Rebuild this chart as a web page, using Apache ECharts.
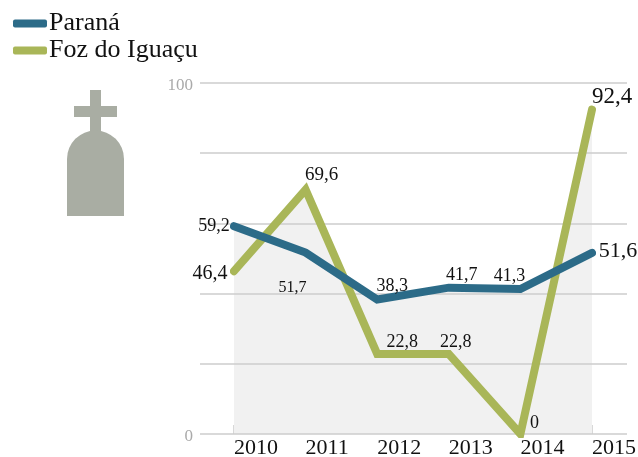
<!DOCTYPE html>
<html><head><meta charset="utf-8">
<style>html,body{margin:0;padding:0;background:#fff}#c{width:638px;height:457px}</style>
<script src="https://cdn.jsdelivr.net/npm/echarts@6/dist/echarts.min.js"></script>
</head><body><div id="c"></div>
<script>
const years = ['2010','2011','2012','2013','2014','2015'];
const parana = [59.2,51.7,38.3,41.7,41.3,51.6];
const foz = [46.4,69.6,22.8,22.8,0,92.4];
const yTicks = [0,100];
const labelOffsets = {
  parana:[[-20,10],[-13,44],[15,-4],[13,-3],[-11,-3],[26,10]],
  foz:[[-24,13],[16,-5],[25,-2],[7,-2],[14,-1],[20,-1]]
};
const labelSizes = {parana:[18,16,18,18,18,22], foz:[20,19,18,18,18,23]};
const fmt = v => String(v).replace('.',',');
const FONT = 'Liberation Serif';
const lineSeries = (name,data,color,key,z) => ({
  name,type:'line',data:data.map((v,i)=>({value:v,label:{
    show:true,position:'top',distance:0,offset:labelOffsets[key][i],
    fontSize:labelSizes[key][i],fontFamily:FONT,color:'#111',formatter:()=>fmt(v)}})),
  xAxisIndex:1,yAxisIndex:1,showSymbol:true,showAllSymbol:true,symbol:'circle',symbolSize:1,z,
  lineStyle:{color,width:8,cap:'round',join:'miter'},itemStyle:{color}
});
const areaSeries = data => ({
  type:'line',data,xAxisIndex:1,yAxisIndex:1,symbol:'none',z:1,silent:true,
  lineStyle:{opacity:0},areaStyle:{color:'#f1f1f1',opacity:1}
});
const chart = echarts.init(document.getElementById('c'),null,{renderer:'canvas'});
const gridTop=83,gridBottom=457-434;
chart.setOption({
  animation:false,
  legend:{left:8,top:5,orient:'vertical',itemWidth:34,itemHeight:8,itemGap:0,
    data:['Paraná','Foz do Iguaçu'],icon:'roundRect',
    textStyle:{fontFamily:FONT,fontSize:26,color:'#111',lineHeight:27,padding:[0,0,0,-3]}},
  grid:[{left:200,right:11,top:gridTop,bottom:gridBottom,outerBoundsMode:'none'},
        {left:234,right:46,top:gridTop,bottom:gridBottom,outerBoundsMode:'none'}],
  xAxis:[
    {gridIndex:0,type:'category',show:false,data:years},
    {gridIndex:1,type:'category',data:years,boundaryGap:false,
      axisLine:{show:false},
      axisTick:{inside:true,length:9,lineStyle:{color:'#ccc',width:1.5}},
      axisLabel:{align:'left',margin:3,fontFamily:FONT,fontSize:22,color:'#111',showMaxLabel:true,showMinLabel:true}}
  ],
  yAxis:[
    {gridIndex:0,type:'value',min:0,max:100,interval:20,z:2,
      axisLine:{show:false},axisTick:{show:false},
      splitLine:{lineStyle:{color:'#ccc',width:1.5}},
      axisLabel:{margin:7,fontFamily:FONT,fontSize:17,color:'#aaa',verticalAlign:'top',lineHeight:6,
        formatter:v=>yTicks.includes(v)?String(v):''}},
    {gridIndex:1,type:'value',min:0,max:100,interval:20,show:false}
  ],
  series:[
    areaSeries(foz),areaSeries(parana),
    lineSeries('Foz do Iguaçu',foz,'#a9b658','foz',3),
    lineSeries('Paraná',parana,'#2c6b88','parana',4)
  ],
  graphic:[
    {type:'rect',shape:{x:90,y:90,width:11,height:44},style:{fill:'#a9ada3'}},
    {type:'rect',shape:{x:74,y:106,width:43,height:11},style:{fill:'#a9ada3'}},
    {type:'circle',shape:{cx:95.5,cy:159,r:28.5},style:{fill:'#a9ada3'}},
    {type:'rect',shape:{x:67,y:159,width:57,height:57},style:{fill:'#a9ada3'}}
  ]
});
</script></body></html>
